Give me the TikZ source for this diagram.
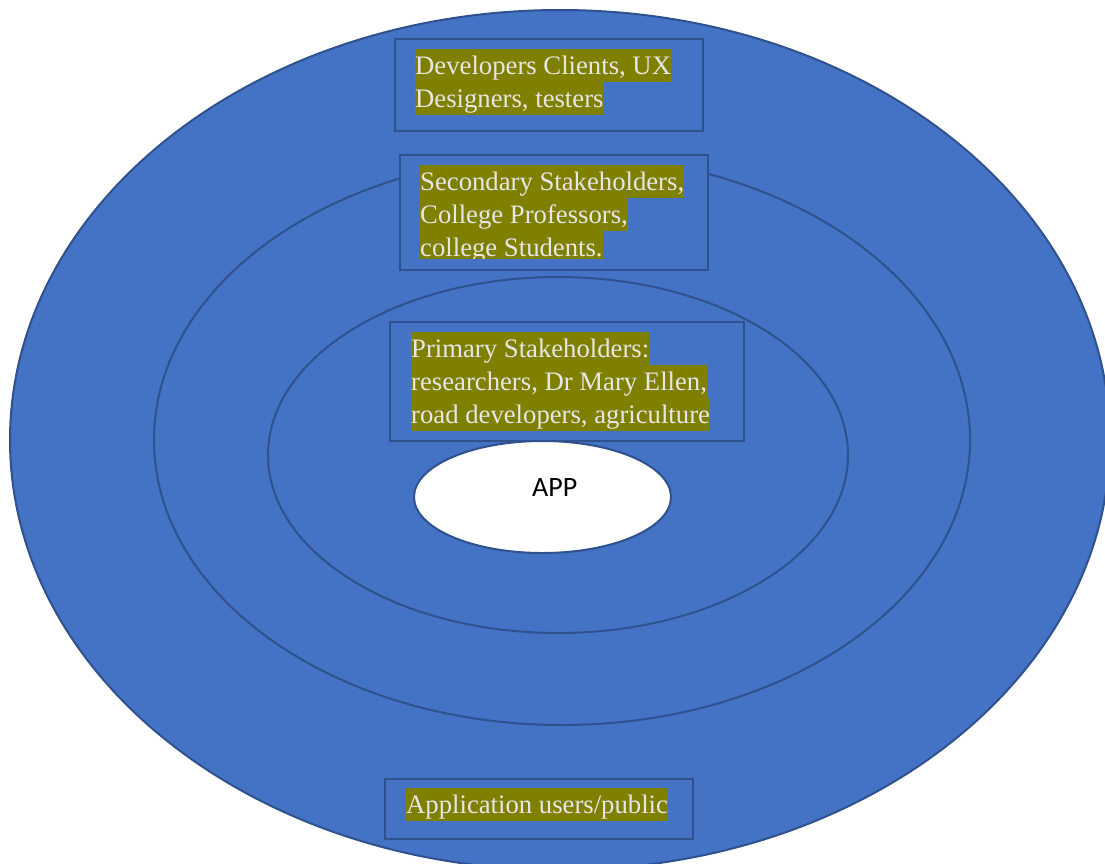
\documentclass[tikz,border=0pt]{standalone}
\usepackage{fontspec}
\setmainfont{Liberation Serif}
\newfontfamily\calib{Carlito}
\usetikzlibrary{shapes.geometric}
\definecolor{fillblue}{HTML}{4472C4}
\definecolor{edgeblue}{HTML}{2F528F}
\definecolor{hl}{HTML}{808000}
\definecolor{txt}{HTML}{E7E6E6}
\begin{document}
\begin{tikzpicture}[x=1pt,y=-1pt,
 ring/.style={ellipse, draw=edgeblue, line width=2pt, fill=fillblue, inner sep=0},
 frame/.style={rectangle, draw=edgeblue, line width=2pt, fill=fillblue, inner sep=0, anchor=north west},
 hline/.style={fill=hl, text=txt, inner sep=0, text height=25pt, text depth=8pt, anchor=base west, font=\fontsize{26.7}{33}\selectfont}]
\useasboundingbox (0,0) rectangle (1105,863);
\clip (0,0) rectangle (1105,863);
\node[ring, minimum width=1100pt, minimum height=860pt] (outer) at (560,440) {};
\node[ring, minimum width=816pt, minimum height=570pt] (middle) at (562,440) {};
\node[ring, minimum width=580pt, minimum height=356pt] (inner) at (558,455) {};
\node[ring, fill=white, minimum width=257pt, minimum height=112pt] (app) at (542.5,497) {};
\node[font=\calib\fontsize{28}{34}\selectfont, anchor=base west, inner sep=0] (applabel) at (532,496) {APP};
% box 1
\node[frame, minimum width=308pt, minimum height=92pt] (box1) at (394,38) {};
\node[hline] (b1l1) at (415,74) {Developers Clients, UX};
\node[hline] (b1l2) at (415,107) {Designers, testers};
% box 2
\node[frame, minimum width=308pt, minimum height=115pt] (box2) at (399,154) {};
\node[hline] (b2l1) at (420,190) {Secondary Stakeholders,};
\node[hline] (b2l2) at (420,223) {College Professors,};
\begin{scope}
\clip (399,154) rectangle (707,258);
\node[hline] (b2l3) at (420,256) {college Students.};
\end{scope}
% box 3
\node[frame, minimum width=354pt, minimum height=119pt] (box3) at (389,321) {};
\node[hline] (b3l1) at (411,357) {Primary Stakeholders:};
\node[hline] (b3l2) at (411,390) {researchers, Dr Mary Ellen,};
\node[hline] (b3l3) at (411,423) {road developers, agriculture};
% box 4
\node[frame, minimum width=308pt, minimum height=60pt] (box4) at (384,778) {};
\node[hline] (b4l1) at (406,813) {Application users/public};
\end{tikzpicture}
\end{document}
